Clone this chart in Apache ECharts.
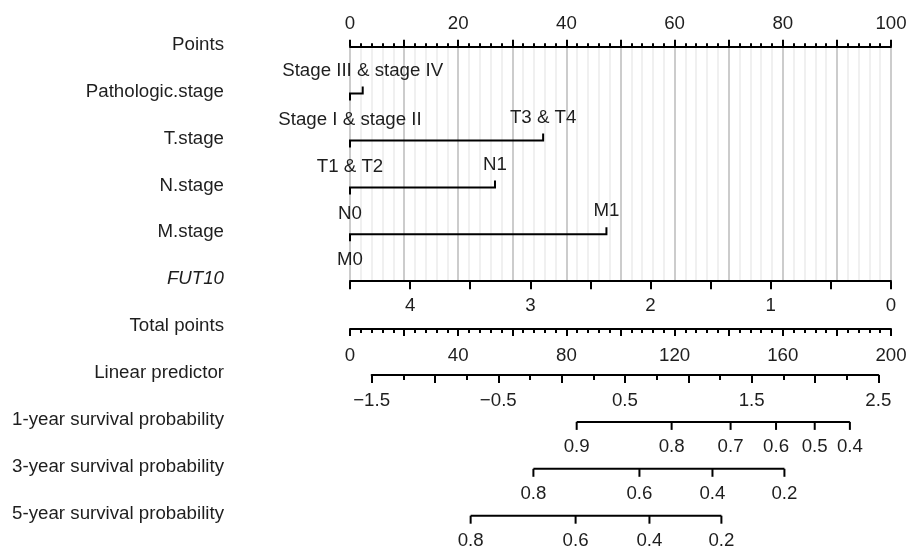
<!DOCTYPE html>
<html><head><meta charset="utf-8">
<script src="https://cdn.jsdelivr.net/npm/echarts@6/dist/echarts.min.js"></script>
<style>html,body{margin:0;padding:0;background:#fff}#c{width:908px;height:548px}</style>
</head><body><div id="c"></div>
<script>
// ---- data ----
const rowNames = ['Points','Pathologic.stage','T.stage','N.stage','M.stage','FUT10','Total points','Linear predictor','1-year survival probability','3-year survival probability','5-year survival probability'];
const catRows = [1, 2, 3, 4];
const catLowLabels = ['Stage I & stage II', 'T1 & T2', 'N0', 'M0'];
const catHighLabels = ['Stage III & stage IV', 'T3 & T4', 'N1', 'M1'];
const catHighPoints = [2.35, 35.7, 26.8, 47.4];
const pointsRange = [0, 100];
const fut10Range = [0, 4.5];      // 4.5 at 0 points, 0 at 100 points
const totalRange = [0, 200];
const lpRange = [-1.5, 2.5];
const lpTotalPoints = [8.0, 195.3]; // total points matching the ends of lpRange
const surv1Probs = [0.9, 0.8, 0.7, 0.6, 0.5, 0.4];
const surv1Total = [83.8, 118.9, 140.7, 157.5, 171.8, 184.8];
const surv3Probs = [0.8, 0.6, 0.4, 0.2];
const surv3Total = [67.8, 107.0, 134.0, 160.6];
const surv5Probs = [0.8, 0.6, 0.4, 0.2];
const surv5Total = [44.6, 83.4, 110.7, 137.3];
const survRows = [8, 9, 10];

// ---- layout / style ----
const PL = 350, PW = 541, TOP = 46.7, ROW = 46.9;
const FONT = 'Liberation Sans, Arial, Helvetica, sans-serif';
const TXT = '#1e1e1e';
const FS = 18.7;
const lbl = (extra) => Object.assign({color: TXT, fontSize: FS, fontFamily: FONT}, extra || {});
const blackLine = {lineStyle: {color: '#000', width: 2}, onZero: false};
const tickStyle = {color: '#000', width: 2};
const survSets = [[surv1Probs, surv1Total], [surv3Probs, surv3Total], [surv5Probs, surv5Total]];
const fmtMinus = v => (v < 0 ? '\u2212' + Math.abs(v) : String(v));
const lpLeft = PL + (lpTotalPoints[0] - totalRange[0]) / (totalRange[1] - totalRange[0]) * PW;
const lpWidth = (lpTotalPoints[1] - lpTotalPoints[0]) / (totalRange[1] - totalRange[0]) * PW;

const chart = echarts.init(document.getElementById('c'), null, {renderer: 'canvas'});
const option = {
  animation: false,
  backgroundColor: '#fff',
  grid: [
    {left: PL, width: PW, top: TOP, height: 5 * ROW, outerBoundsMode: 'none'},
    {left: PL, width: PW, top: TOP + 5 * ROW, height: ROW + 0.8, outerBoundsMode: 'none'},
    {left: lpLeft, width: lpWidth, top: TOP + 6 * ROW, height: ROW, outerBoundsMode: 'none'},
    {left: PL, width: PW, top: TOP, height: 10 * ROW, outerBoundsMode: 'none'}
  ],
  xAxis: [
    { // Points
      gridIndex: 0, type: 'value', position: 'top', min: pointsRange[0], max: pointsRange[1], interval: 10,
      axisLine: blackLine,
      axisTick: {show: true, length: 7, lineStyle: tickStyle},
      minorTick: {show: true, splitNumber: 5, length: 3.5, lineStyle: tickStyle},
      axisLabel: lbl({margin: 13, formatter: v => (v % 20 === 0 ? String(v) : '')}),
      splitLine: {show: true, lineStyle: {color: '#cccccc', width: 2}},
      minorSplitLine: {show: true, lineStyle: {color: '#ececec', width: 1.5}}
    },
    { // FUT10
      gridIndex: 0, type: 'value', position: 'bottom', min: fut10Range[0], max: fut10Range[1], interval: 0.5, inverse: true,
      axisLine: blackLine,
      axisTick: {show: true, length: 8, lineStyle: tickStyle},
      axisLabel: lbl({margin: 15, formatter: v => (Number.isInteger(v) ? String(v) : '')}),
      splitLine: {show: false}
    },
    { // Total points
      gridIndex: 1, type: 'value', position: 'bottom', min: totalRange[0], max: totalRange[1], interval: 20,
      axisLine: blackLine,
      axisTick: {show: true, length: 7, lineStyle: tickStyle},
      minorTick: {show: true, splitNumber: 5, length: 4, lineStyle: tickStyle},
      axisLabel: lbl({margin: 17, formatter: v => (v % 40 === 0 ? String(v) : '')}),
      splitLine: {show: false}
    },
    { // Linear predictor
      gridIndex: 2, type: 'value', position: 'bottom', min: lpRange[0], max: lpRange[1], interval: 0.5,
      axisLine: blackLine,
      axisTick: {show: true, length: 8, lineStyle: tickStyle},
      minorTick: {show: true, splitNumber: 2, length: 5, lineStyle: tickStyle},
      axisLabel: lbl({margin: 16, formatter: v => (Math.abs(((v - lpRange[0]) % 1)) < 1e-9 ? fmtMinus(v) : '')}),
      splitLine: {show: false}
    },
    { // hidden total-points scale for survival rows
      gridIndex: 3, type: 'value', min: totalRange[0], max: totalRange[1], show: false
    }
  ],
  yAxis: [
    {gridIndex: 0, type: 'value', min: 0, max: 5, inverse: true, show: false},
    {gridIndex: 1, type: 'value', min: 0, max: 1, show: false},
    {gridIndex: 2, type: 'value', min: 0, max: 1, show: false},
    {
      gridIndex: 3, type: 'value', min: 0, max: 10, interval: 1, inverse: true,
      axisLine: {show: false}, axisTick: {show: false}, splitLine: {show: false},
      axisLabel: lbl({
        margin: PL - 224,
        padding: [0, 0, 4, 0],
        formatter: v => (rowNames[v] === 'FUT10' ? '{it|FUT10}' : rowNames[v]),
        rich: {it: {fontStyle: 'italic', color: TXT, fontSize: FS, fontFamily: FONT}}
      })
    }
  ],
  series: [
    {
      type: 'custom', xAxisIndex: 0, yAxisIndex: 0, clip: false,
      data: catRows.map((r, i) => [r, catHighPoints[i], i]),
      renderItem: (params, api) => {
        const row = api.value(0), hi = api.value(1), i = api.value(2);
        const p0 = api.coord([pointsRange[0], row]);
        const p1 = api.coord([hi, row]);
        return {
          type: 'group',
          children: [
            {type: 'polyline', shape: {points: [[p0[0], p0[1] + 7], [p0[0], p0[1]], [p1[0], p1[1]], [p1[0], p1[1] - 7]]},
             style: {stroke: '#000', lineWidth: 2, fill: null}},
            {type: 'text', x: p0[0], y: p0[1] + 26,
             style: {text: catLowLabels[i], fill: TXT, fontSize: FS, fontFamily: FONT, align: 'center', verticalAlign: 'middle'}},
            {type: 'text', x: p1[0], y: p1[1] - 23,
             style: {text: catHighLabels[i], fill: TXT, fontSize: FS, fontFamily: FONT, align: 'center', verticalAlign: 'middle'}}
          ]
        };
      }
    },
    {
      type: 'custom', xAxisIndex: 4, yAxisIndex: 3, clip: false,
      data: survRows.map((r, i) => [r, i]),
      renderItem: (params, api) => {
        const row = api.value(0), k = api.value(1);
        const probs = survSets[k][0], tps = survSets[k][1];
        const pts = tps.map(t => api.coord([t, row]));
        const children = [{type: 'line', shape: {x1: pts[0][0], y1: pts[0][1], x2: pts[pts.length - 1][0], y2: pts[0][1]},
                           style: {stroke: '#000', lineWidth: 2}}];
        pts.forEach((p, j) => {
          children.push({type: 'line', shape: {x1: p[0], y1: p[1], x2: p[0], y2: p[1] + 8}, style: {stroke: '#000', lineWidth: 2}});
          children.push({type: 'text', x: p[0], y: p[1] + 25,
            style: {text: probs[j].toFixed(1), fill: TXT, fontSize: FS, fontFamily: FONT, align: 'center', verticalAlign: 'middle'}});
        });
        return {type: 'group', children};
      }
    }
  ]
};
chart.setOption(option);
</script></body></html>
